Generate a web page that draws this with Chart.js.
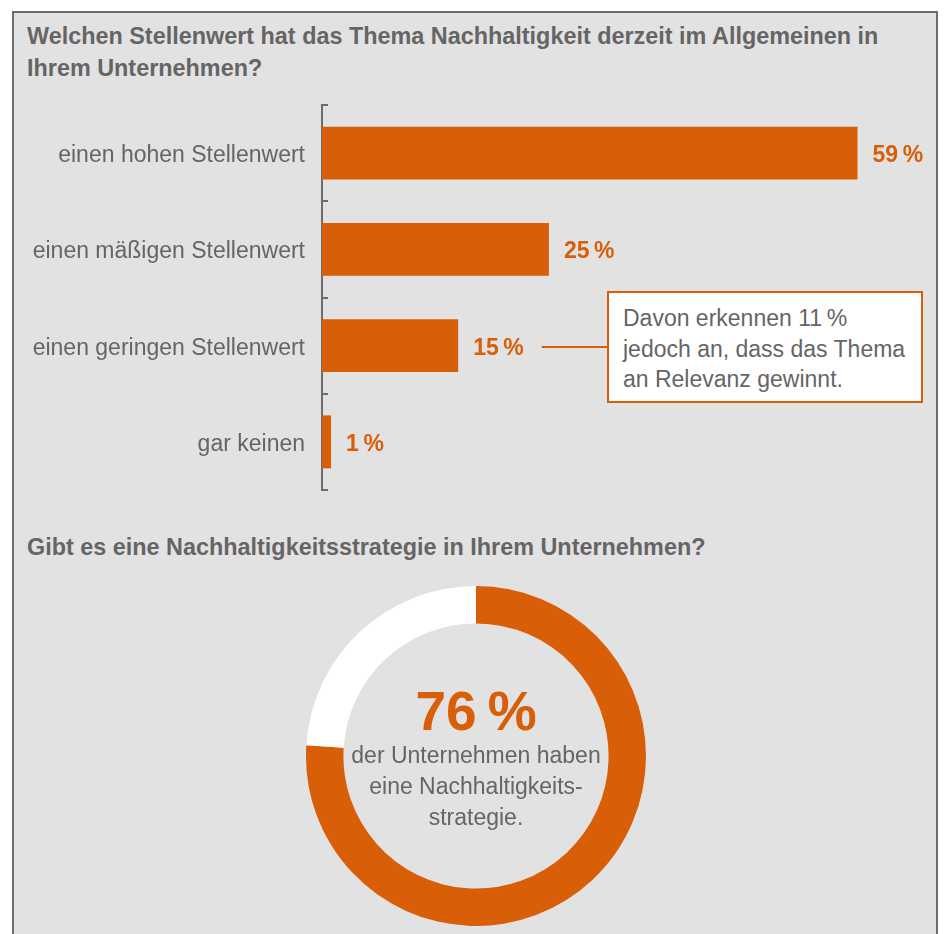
<!DOCTYPE html>
<html lang="de">
<head>
<meta charset="utf-8">
<title>Nachhaltigkeit im Unternehmen</title>
<script src="https://cdn.jsdelivr.net/npm/chart.js@4/dist/chart.umd.min.js"></script>
<style>
  body { margin: 0; background: #fff; font-family: "Liberation Sans", Arial, sans-serif; color: #656565; }
  .panel { position: absolute; left: 12px; top: 11px; width: 926px; height: 960px;
           box-sizing: border-box; background: #e2e2e2; border: 2px solid #6d6d6d; }
  .title { position: absolute; left: 27px; margin: 0; font-size: 23.4px; font-weight: bold;
           line-height: 32px; color: #656565; white-space: nowrap; }
  #barChart { position: absolute; left: 0; top: 90px; }
  #donutChart { position: absolute; left: 306px; top: 586px; }
  .note { position: absolute; left: 607px; top: 291px; width: 316px; height: 112px;
          box-sizing: border-box; background: #fff; border: 2px solid #d85e08;
          padding: 10px 0 0 14px; font-size: 23px; line-height: 30.5px; }
  .big { position: absolute; left: 306px; width: 340px; text-align: center; top: 683px;
         font-size: 55px; line-height: 56px; font-weight: bold; color: #d85e08; }
  .sub { position: absolute; left: 306px; width: 340px; text-align: center; top: 740px;
         font-size: 23px; line-height: 31px; }
</style>
</head>
<body>
<div class="panel"></div>
<h2 class="title" style="top:20px">Welchen Stellenwert hat das Thema Nachhaltigkeit derzeit im Allgemeinen in<br>Ihrem Unternehmen?</h2>
<canvas id="barChart" width="944" height="420"></canvas>
<div class="note" id="note"></div>
<h2 class="title" style="top:531px">Gibt es eine Nachhaltigkeitsstrategie in Ihrem Unternehmen?</h2>
<canvas id="donutChart" width="340" height="340"></canvas>
<div class="big" id="bigShare"></div>
<div class="sub">der Unternehmen haben<br>eine Nachhaltigkeits-<br>strategie.</div>

<script>
// Stellenwert der Nachhaltigkeit (Anteile in %)
const categories = ['einen hohen Stellenwert', 'einen mäßigen Stellenwert', 'einen geringen Stellenwert', 'gar keinen'];
const shares = [59, 25, 15, 1];
const axisMax = 65;

// Nachhaltigkeitsstrategie vorhanden?
const strategyLabels = ['ja', 'nein'];
const strategyShares = [76, 24];

// Hinweis zur Kategorie "geringer Stellenwert"
const noteIndex = 2;
const noteLines = ['Davon erkennen 11\u2009%', 'jedoch an, dass das Thema', 'an Relevanz gewinnt.'];

const ORANGE = '#d85e08';
const GREY = '#656565';
const AXIS = '#6d6d6d';
const FONT = '"Liberation Sans", Arial, sans-serif';

const pct = v => v + '\u2009%';

const noteEl = document.getElementById('note');
noteEl.innerHTML = noteLines.join('<br>');
const noteLeft = noteEl.offsetLeft;

document.getElementById('bigShare').innerText = pct(strategyShares[0]);

// category names left of the axis, value labels right of the bars,
// plus the connector to the note box (baseline sits a bit below the bar centre)
const barText = {
    id: 'barText',
    afterDatasetsDraw(chart) {
        const ctx = chart.ctx;
        const yScale = chart.scales.y;
        const bars = chart.getDatasetMeta(0).data;
        ctx.save();
        ctx.textBaseline = 'alphabetic';

        ctx.font = '23px ' + FONT;
        ctx.fillStyle = GREY;
        ctx.textAlign = 'right';
        categories.forEach((name, i) => {
            ctx.fillText(name, yScale.right - 17, yScale.getPixelForValue(i) + 9);
        });

        ctx.font = 'bold 23px ' + FONT;
        ctx.fillStyle = ORANGE;
        ctx.textAlign = 'left';
        bars.forEach((bar, i) => {
            const text = pct(shares[i]);
            const x = bar.x + 15;
            ctx.fillText(text, x, bar.y + 9);
            if (i === noteIndex) {
                const end = x + ctx.measureText(text).width + 18;
                ctx.strokeStyle = ORANGE;
                ctx.lineWidth = 2;
                ctx.beginPath();
                ctx.moveTo(end, Math.round(bar.y) + 1);
                ctx.lineTo(noteLeft, Math.round(bar.y) + 1);
                ctx.stroke();
            }
        });
        ctx.restore();
    }
};

new Chart(document.getElementById('barChart'), {
    type: 'bar',
    data: {
        labels: categories,
        datasets: [{
            data: shares,
            backgroundColor: ORANGE,
            borderWidth: 0,
            categoryPercentage: 1,
            barPercentage: 0.55
        }]
    },
    options: {
        indexAxis: 'y',
        responsive: false,
        animation: false,
        layout: { padding: { top: 15, bottom: 20, right: 32, left: 0 } },
        plugins: { legend: { display: false }, tooltip: { enabled: false } },
        scales: {
            x: { display: false, min: 0, max: axisMax },
            y: {
                afterFit: s => {
                    s.width = 322;
                    s.paddingTop = 0;
                    s.paddingBottom = 0;
                },
                border: { display: true, color: AXIS, width: 2 },
                grid: {
                    offset: true,
                    drawOnChartArea: false,
                    drawTicks: true,
                    tickLength: -6,
                    color: AXIS,
                    lineWidth: 2
                },
                ticks: { display: false }
            }
        }
    },
    plugins: [barText]
});

new Chart(document.getElementById('donutChart'), {
    type: 'doughnut',
    data: {
        labels: strategyLabels,
        datasets: [{
            data: strategyShares,
            backgroundColor: [ORANGE, '#ffffff'],
            borderWidth: 0
        }]
    },
    options: {
        responsive: false,
        animation: false,
        cutout: '78%',
        plugins: { legend: { display: false }, tooltip: { enabled: false } }
    }
});
</script>
</body>
</html>
